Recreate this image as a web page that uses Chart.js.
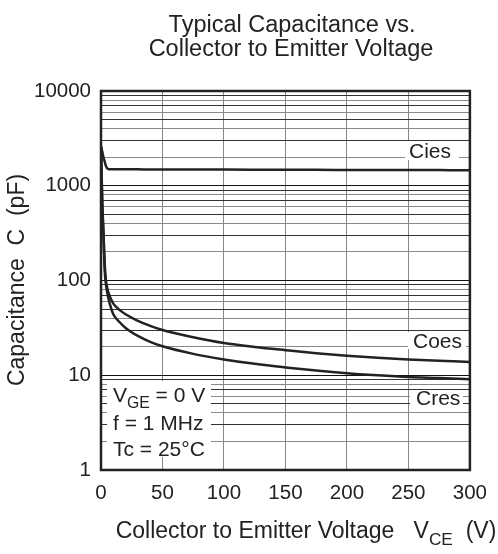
<!DOCTYPE html>
<html>
<head>
<meta charset="utf-8">
<script src="https://cdn.jsdelivr.net/npm/chart.js@4/dist/chart.umd.min.js"></script>
<style>
  html, body { margin: 0; padding: 0; background: #fff; }
  #wrap { width: 498px; height: 554px; }
</style>
</head>
<body>
<div id="wrap"><canvas id="capChart" width="498" height="554"></canvas></div>
<script>
// Collector-emitter voltage points (V)
const vce = [0, 1, 2, 3, 4, 5, 6, 8, 10, 15, 20, 30, 40, 50, 75, 100, 125, 150, 175, 200, 225, 250, 275, 300];
// Capacitance values (pF)
const cies = [2600, 2300, 2000, 1800, 1620, 1530, 1500, 1490, 1490, 1490, 1490, 1490, 1485, 1485, 1480, 1480, 1478, 1475, 1472, 1470, 1468, 1465, 1462, 1460];
const coes = [2600, 700, 330, 150, 100, 84, 75, 64, 57, 49, 44, 37.5, 33.2, 30, 25.2, 21.9, 19.9, 18.4, 17.1, 16.1, 15.3, 14.7, 14.2, 13.8];
const cres = [2600, 650, 300, 130, 92, 75, 65, 52, 44, 36.5, 31.6, 26, 22.5, 20.2, 16.8, 14.7, 13.2, 12.1, 11.2, 10.5, 10, 9.6, 9.35, 9.1];

// Axis ticks
const xTicks = [0, 50, 100, 150, 200, 250, 300];
const yMajor = [1, 10, 100, 1000, 10000];

const FONT = '"Liberation Sans", Arial, Helvetica, sans-serif';
const INK = '#222';

function toPoints(ys) {
  return vce.map((v, i) => ({ x: v, y: ys[i] }));
}

// all 1..9 per decade for the log grid
const yGrid = [];
for (let d = 0; d < 4; d++) {
  for (let m = 1; m < 10; m++) yGrid.push(m * Math.pow(10, d));
}
yGrid.push(10000);

function gridColor(v) {
  const m = Math.round(v / Math.pow(10, Math.floor(Math.log10(v) + 1e-9)));
  if (m === 1) return '#111';
  return (m % 2 === 0) ? '#888' : '#333';
}

// draw text with a subscript part: parts = [[text, isSub], ...]
function drawParts(ctx, parts, x, y, size, align) {
  ctx.save();
  ctx.textBaseline = 'alphabetic';
  ctx.textAlign = 'left';
  let total = 0;
  parts.forEach(p => {
    ctx.font = (p[1] ? size * 0.75 : size) + 'px ' + FONT;
    total += ctx.measureText(p[0]).width;
  });
  let cx = align === 'center' ? x - total / 2 : x;
  parts.forEach(p => {
    ctx.font = (p[1] ? size * 0.75 : size) + 'px ' + FONT;
    ctx.fillText(p[0], cx, p[1] ? y + size * 0.3 : y);
    cx += ctx.measureText(p[0]).width;
  });
  ctx.restore();
}

function whiteBox(ctx, x, y, w, h) {
  ctx.fillStyle = '#fff';
  ctx.fillRect(x, y, w, h);
}

const decorations = {
  id: 'decorations',
  beforeDatasetsDraw(chart) {
    const ctx = chart.ctx;
    ctx.save();
    // curve labels
    whiteBox(ctx, 405, 141, 54, 19);
    whiteBox(ctx, 408, 332, 58, 17);
    whiteBox(ctx, 410, 390, 53, 18);
    ctx.fillStyle = INK;
    ctx.font = '21px ' + FONT;
    ctx.textBaseline = 'middle';
    ctx.textAlign = 'left';
    ctx.fillText('Cies', 409, 152);
    ctx.fillText('Coes', 413, 342);
    ctx.fillText('Cres', 416, 399);
    // conditions box
    whiteBox(ctx, 107, 381, 104, 76);
    ctx.fillStyle = INK;
    drawParts(ctx, [['V', false], ['GE', true], [' = 0 V', false]], 113, 402, 21, 'left');
    drawParts(ctx, [['f = 1 MHz', false]], 113, 430, 21, 'left');
    drawParts(ctx, [['Tc = 25\u00B0C', false]], 113, 456, 21, 'left');
    ctx.restore();
  },
  afterDraw(chart) {
    const ctx = chart.ctx;
    const a = chart.chartArea;
    ctx.save();
    ctx.strokeStyle = INK;
    ctx.lineWidth = 2.5;
    ctx.strokeRect(a.left, a.top, a.right - a.left, a.bottom - a.top);
    ctx.fillStyle = INK;
    // title
    ctx.font = '23.5px ' + FONT;
    ctx.textAlign = 'center';
    ctx.textBaseline = 'alphabetic';
    ctx.fillText('Typical Capacitance vs.', 292, 32);
    ctx.fillText('Collector to Emitter Voltage', 291, 56);
    // x axis title
    drawParts(ctx, [['Collector to Emitter Voltage   V', false], ['CE', true], ['  (V)', false]], 306, 538, 23, 'center');
    // y axis title
    ctx.translate(18, 280);
    ctx.rotate(-Math.PI / 2);
    ctx.font = '23px ' + FONT;
    ctx.textAlign = 'center';
    ctx.textBaseline = 'middle';
    ctx.fillText('Capacitance  C  (pF)', 0, 0);
    ctx.restore();
  }
};

const lineStyle = {
  borderColor: INK,
  borderWidth: 2.5,
  pointRadius: 0,
  fill: false,
  cubicInterpolationMode: 'monotone'
};

new Chart(document.getElementById('capChart').getContext('2d'), {
  type: 'line',
  data: {
    datasets: [
      Object.assign({ label: 'Cies', data: toPoints(cies) }, lineStyle),
      Object.assign({ label: 'Coes', data: toPoints(coes) }, lineStyle),
      Object.assign({ label: 'Cres', data: toPoints(cres) }, lineStyle)
    ]
  },
  options: {
    responsive: false,
    animation: false,
    layout: { padding: { top: 91, right: 19, left: 0, bottom: 0 } },
    plugins: {
      legend: { display: false },
      tooltip: { enabled: false },
      title: { display: false }
    },
    scales: {
      x: {
        type: 'linear',
        min: 0,
        max: 300,
        afterFit(scale) { scale.height = 84; },
        afterBuildTicks(scale) { scale.ticks = xTicks.map(v => ({ value: v })); },
        grid: { color: '#888', lineWidth: 1, drawTicks: false },
        border: { display: false },
        ticks: {
          padding: 11,
          color: INK,
          font: { family: FONT, size: 20.5 },
          maxRotation: 0
        }
      },
      y: {
        type: 'logarithmic',
        min: 1,
        max: 10000,
        afterFit(scale) { scale.width = 101; },
        afterBuildTicks(scale) {
          scale.ticks = yGrid.map(v => ({ value: v, major: yMajor.includes(v) }));
        },
        grid: {
          color: ctx => gridColor(ctx.tick.value),
          lineWidth: 1,
          drawTicks: false
        },
        border: { display: false },
        ticks: {
          padding: 10,
          color: INK,
          autoSkip: false,
          font: { family: FONT, size: 20.5 },
          callback: v => (yMajor.includes(v) ? String(v) : '')
        }
      }
    }
  },
  plugins: [decorations]
});
</script>
</body>
</html>
